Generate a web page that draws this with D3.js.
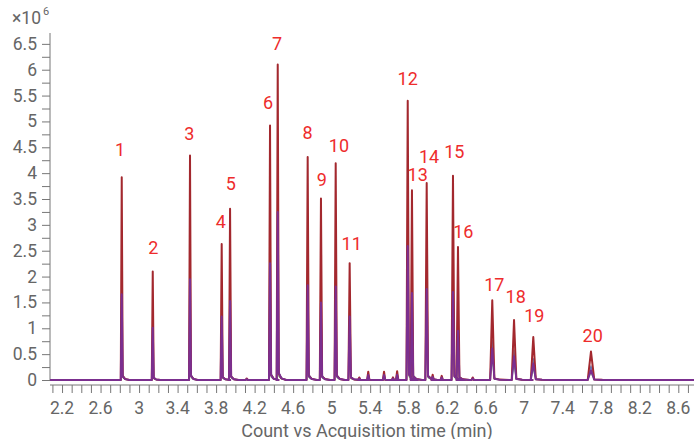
<!DOCTYPE html>
<html>
<head>
<meta charset="utf-8">
<script src="https://cdn.jsdelivr.net/npm/d3@7"></script>
<style>
  body { margin: 0; background: #fff; }
  #chart { width: 694px; height: 439px; }
  .tick-label { font-family: Roboto, sans-serif; font-size: 17.5px; fill: #666; }
  .axis-title { font-family: Roboto, sans-serif; font-size: 18px; fill: #666; }
  .peak-label { font-family: Roboto, sans-serif; font-size: 18px; fill: #ee2c2c; }
</style>
</head>
<body>
<div id="chart"></div>
<script>
// peaks, retention time (min) and abundance (x10^6)
const peakNames = ['1','2','3','4','5','6','7','8','9','10','11','12','13','14','15','16','17','18','19','20'];
const peakTimes = [2.82, 3.142, 3.529, 3.858, 3.945, 4.36, 4.44, 4.751, 4.889, 5.042, 5.187, 5.79, 5.834, 5.987, 6.26, 6.312, 6.668, 6.894, 7.094, 7.693];
const ticHeights = [3.92, 2.10, 4.34, 2.63, 3.31, 4.92, 6.10, 4.31, 3.51, 4.19, 2.26, 5.40, 3.67, 3.81, 3.95, 2.57, 1.54, 1.16, 0.83, 0.55];
const ionHeights = [1.66, 1.01, 1.95, 1.23, 1.53, 2.26, 3.25, 1.83, 1.50, 1.81, 1.23, 2.59, 1.68, 1.76, 1.70, 0.95, 0.61, 0.46, 0.32, 0.19];
// half width of each peak at its base (min)
const peakWidths = [0.010, 0.010, 0.010, 0.011, 0.011, 0.011, 0.011, 0.012, 0.012, 0.012, 0.013, 0.013, 0.013, 0.014, 0.015, 0.015, 0.022, 0.024, 0.026, 0.034];
const labelTimes = [2.802, 3.148, 3.522, 3.848, 3.952, 4.339, 4.433, 4.751, 4.897, 5.076, 5.208, 5.79, 5.894, 6.011, 6.274, 6.367, 6.689, 6.911, 7.104, 7.711];
const labelValues = [4.45, 2.57, 4.76, 3.06, 3.80, 5.36, 6.50, 4.78, 3.87, 4.53, 2.64, 5.83, 3.98, 4.33, 4.42, 2.87, 1.85, 1.61, 1.24, 0.87];

// small unlabelled peaks
const minorTimes = [4.118, 5.287, 5.38, 5.544, 5.637, 5.68, 6.049, 6.143, 6.465];
const minorHeights = [0.03, 0.05, 0.16, 0.16, 0.05, 0.17, 0.10, 0.08, 0.05];

const yTicks = [0, 0.5, 1, 1.5, 2, 2.5, 3, 3.5, 4, 4.5, 5, 5.5, 6, 6.5];
const xTicks = [2.2, 2.6, 3, 3.4, 3.8, 4.2, 4.6, 5, 5.4, 5.8, 6.2, 6.6, 7, 7.4, 7.8, 8.2, 8.6];

const width = 694, height = 439;
const x = d3.scaleLinear().domain([2.075, 8.763]).range([50, 694]);
const y = d3.scaleLinear().domain([0, 6.71]).range([380, 33]);

const svg = d3.select('#chart').append('svg')
  .attr('width', width).attr('height', height);

// y axis
const yAxis = svg.append('g').attr('transform', 'translate(50,0)')
  .call(d3.axisLeft(y).tickValues(d3.range(0, 6.6, 0.25)).tickSize(8).tickFormat(''));
yAxis.select('.domain').remove();
yAxis.selectAll('line').attr('stroke', '#777');
svg.append('line').attr('x1', 50).attr('x2', 50).attr('y1', 33).attr('y2', 381)
  .attr('stroke', '#777');
svg.selectAll('.ylab').data(yTicks).enter().append('text')
  .attr('class', 'tick-label')
  .attr('x', 37).attr('y', d => y(d))
  .attr('text-anchor', 'end').attr('dominant-baseline', 'central')
  .text(d => d);

svg.append('text').attr('class', 'tick-label').attr('x', 12).attr('y', 24).text('×10');
svg.append('text').attr('class', 'tick-label').attr('x', 43).attr('y', 15)
  .style('font-size', '11px').text('6');

// x axis
const xAxis = svg.append('g').attr('transform', 'translate(0,385)')
  .call(d3.axisBottom(x).tickValues(d3.range(2.1, 8.75, 0.1)).tickSize(8).tickFormat(''));
xAxis.select('.domain').remove();
xAxis.selectAll('line').attr('stroke', '#777');
svg.append('line').attr('x1', 50).attr('x2', 694).attr('y1', 385).attr('y2', 385)
  .attr('stroke', '#777');
svg.selectAll('.xlab').data(xTicks).enter().append('text')
  .attr('class', 'tick-label')
  .attr('x', d => x(d)).attr('y', 408)
  .attr('text-anchor', 'middle').attr('dominant-baseline', 'central')
  .text(d => d);
svg.append('text').attr('class', 'axis-title')
  .attr('x', 367).attr('y', 430).attr('text-anchor', 'middle').attr('dominant-baseline', 'central')
  .text('Count vs Acquisition time (min)');

// traces
const buildTrace = (heights, tail) => {
  const pts = [[2.075, 0]];
  const all = peakTimes.map((t, i) => [t, heights[i], peakWidths[i]])
    .concat(minorTimes.map((t, i) => [t, minorHeights[i] * tail.minor, 0.012]))
    .sort((a, b) => a[0] - b[0]);
  all.forEach(([t, h, w]) => {
    pts.push([t - w, 0]);
    pts.push([t, h]);
    pts.push([t + w, h * tail.k]);
    pts.push([t + w * 3.5, h * tail.k / 4]);
    pts.push([t + w * 8, 0]);
  });
  pts.push([8.763, 0]);
  return pts;
};

const line = d3.line().x(d => x(d[0])).y(d => y(d[1]));

const traces = [
  { h: ticHeights.map(d => d * 0.5), color: '#3b5ba8', k: 0.05, minor: 0.3, w: 1.2, op: 0.8 },
  { h: ticHeights.map(d => d * 0.25), color: '#3f8f55', k: 0.04, minor: 0.2, w: 1, op: 0.7 },
  { h: ticHeights, color: '#a3282e', k: 0.02, minor: 1, w: 2, op: 1 },
  { h: ionHeights, color: '#7b2f8f', k: 0.04, minor: 0.6, w: 2, op: 1 }
];

traces.forEach(tr => {
  svg.append('path')
    .datum(buildTrace(tr.h, { k: tr.k, minor: tr.minor }))
    .attr('d', line)
    .attr('fill', 'none')
    .attr('stroke', tr.color)
    .attr('stroke-width', tr.w)
    .attr('stroke-opacity', tr.op)
    .attr('stroke-linejoin', 'round');
});

// peak labels
svg.selectAll('.peak-label').data(peakNames).enter().append('text')
  .attr('class', 'peak-label')
  .attr('x', (d, i) => x(labelTimes[i]))
  .attr('y', (d, i) => y(labelValues[i]))
  .attr('text-anchor', 'middle').attr('dominant-baseline', 'central')
  .text(d => d);
</script>
</body>
</html>
